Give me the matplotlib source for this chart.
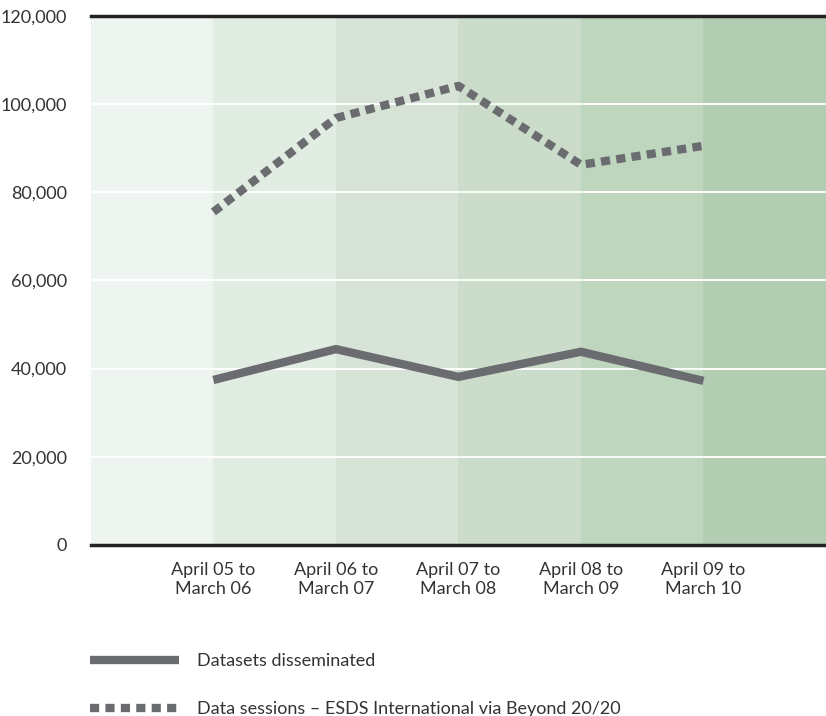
import numpy as np
import matplotlib.pyplot as plt
from matplotlib.ticker import FuncFormatter

plt.rcParams['font.family'] = ['Lato', 'DejaVu Sans']

periods = ["April 05 to\nMarch 06", "April 06 to\nMarch 07", "April 07 to\nMarch 08",
           "April 08 to\nMarch 09", "April 09 to\nMarch 10"]
datasets = [37400, 44400, 38100, 43800, 37200]
sessions = [75500, 96800, 104100, 86200, 90500]
yticks = [0, 20000, 40000, 60000, 80000, 100000, 120000]

band_colors = ['#eef5f0', '#e1ece2', '#d6e3d6', '#cbddca', '#bed5be', '#b2cdb2']
line_color = '#6b6c70'
text_color = '#333333'

fig = plt.figure(figsize=(8.26, 7.16), dpi=100)
ax = fig.add_axes([0.110, 0.239, 0.890, 0.739])

x = np.arange(1, len(periods) + 1)
for i, c in enumerate(band_colors):
    ax.axvspan(i, i + 1, color=c, lw=0, zorder=0)

for y in yticks[1:-1]:
    ax.axhline(y, color='white', lw=1.3, zorder=1)

ax.plot(x, datasets, color=line_color, lw=6, solid_joinstyle='miter',
        solid_capstyle='butt', zorder=3, label='Datasets disseminated')
ax.plot(x, sessions, color=line_color, lw=6, dashes=(1.1, 0.75),
        dash_capstyle='butt', zorder=3,
        label='Data sessions \u2013 ESDS International via Beyond 20/20')

ax.set_xlim(0, 6)
ax.set_ylim(0, 120000)
ax.set_xticks(x)
ax.set_xticklabels(periods, linespacing=1.3)
ax.set_yticks(yticks)
ax.yaxis.set_major_formatter(FuncFormatter(lambda v, p: f"{int(v):,}"))
ax.tick_params(length=0, labelsize=13, labelcolor=text_color)
ax.tick_params(axis='y', pad=17)
ax.tick_params(axis='x', pad=12)

for s in ['left', 'right']:
    ax.spines[s].set_visible(False)
for s in ['top', 'bottom']:
    ax.spines[s].set_linewidth(2.5)
    ax.spines[s].set_color('#222222')

leg = ax.legend(loc='upper left', bbox_to_anchor=(-0.001, -0.205), frameon=False,
                handlelength=4.9, handletextpad=1.0, labelspacing=1.75,
                fontsize=13, borderaxespad=0, borderpad=0)
for t in leg.get_texts():
    t.set_color(text_color)

fig.savefig('out.png', dpi=100)
